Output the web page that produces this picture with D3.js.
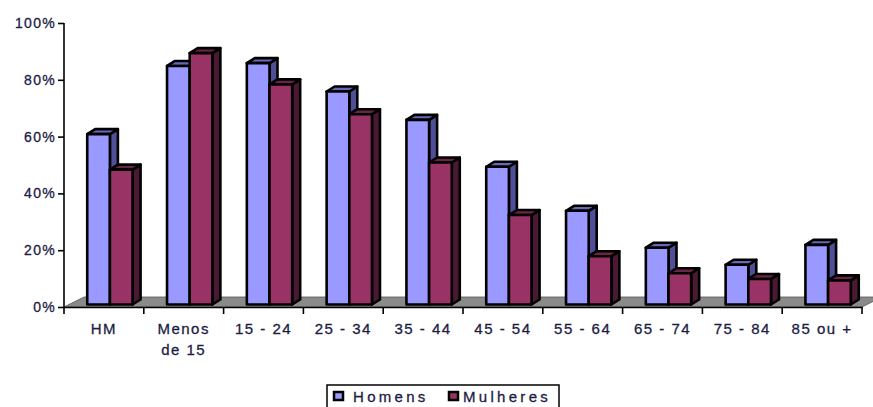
<!DOCTYPE html>
<html>
<head>
<meta charset="utf-8">
<script src="https://cdn.jsdelivr.net/npm/d3@7"></script>
<style>
  html, body { margin: 0; padding: 0; background: #fff; }
  svg { display: block; }
  text { font-family: "Liberation Sans", Arial, sans-serif; fill: #1c1c44; stroke: #1c1c44; stroke-width: 0.3px; }
</style>
</head>
<body>
<svg id="chart" width="873" height="407"></svg>
<script>
// Age groups and share (%) for each sex
const categories = ["HM", "Menos de 15", "15 - 24", "25 - 34", "35 - 44", "45 - 54", "55 - 64", "65 - 74", "75 - 84", "85 ou +"];
const seriesNames = ["Homens", "Mulheres"];
const homens   = [60, 84, 85, 75, 65, 48.5, 33, 20, 14, 21];
const mulheres = [47.5, 88.5, 77.5, 67, 50, 31.5, 17, 11, 9, 8.5];
const yTicks = [0, 20, 40, 60, 80, 100];

const colors = {
  Homens:   { front: "#9999ff", side: "#4e4f96", top: "#6768b8" },
  Mulheres: { front: "#993366", side: "#4a1933", top: "#6b2347" }
};

const svg = d3.select("#chart");
const plotLeft = 64, plotRight = 862, plotTop = 23, plotBottom = 307;

const x = d3.scaleBand().domain(categories).range([plotLeft, plotRight]).padding(0);
const xs = d3.scaleBand().domain(seriesNames).range([0, x.bandwidth()]).paddingInner(0).paddingOuter(0.76);
const y = d3.scaleLinear().domain([0, 100]).range([plotBottom, plotTop]);

// 3D offsets: floor depth and column depth
const floorDx = 20, floorDy = -10;
const barShiftX = 6, barShiftY = -2.5;
const depthX = 8, depthY = -5;
const poly = pts => pts.map(p => p.join(",")).join(" ");

// floor
svg.append("polygon")
  .attr("points", poly([[plotLeft, plotBottom], [plotRight, plotBottom], [plotRight + floorDx, plotBottom + floorDy], [plotLeft + floorDx, plotBottom + floorDy]]))
  .attr("fill", "#8a8a8a")
  .attr("stroke", "#555")
  .attr("stroke-width", 0.8);

// columns
const data = [];
categories.forEach((c, i) => {
  data.push({ cat: c, s: "Homens", v: homens[i] });
  data.push({ cat: c, s: "Mulheres", v: mulheres[i] });
});

const bars = svg.append("g").selectAll("g").data(data).join("g");
bars.each(function (d) {
  const g = d3.select(this);
  const x0 = x(d.cat) + xs(d.s) + barShiftX;
  const x1 = x0 + xs.bandwidth();
  const yb = y(0) + barShiftY;
  const yt = y(d.v) + barShiftY;
  const col = colors[d.s];
  g.append("polygon")
    .attr("points", poly([[x1, yb], [x1 + depthX, yb + depthY], [x1 + depthX, yt + depthY], [x1, yt]]))
    .attr("fill", col.side);
  g.append("polygon")
    .attr("points", poly([[x0, yt], [x1, yt], [x1 + depthX, yt + depthY], [x0 + depthX, yt + depthY]]))
    .attr("fill", col.top);
  g.append("rect")
    .attr("x", x0).attr("y", yt)
    .attr("width", x1 - x0).attr("height", yb - yt)
    .attr("fill", col.front);
  g.selectAll("polygon, rect")
    .attr("stroke", "#000")
    .attr("stroke-width", 2.6)
    .attr("stroke-linejoin", "round");
});

// y axis
const yAxis = svg.append("g").attr("transform", `translate(${plotLeft},0)`)
  .call(d3.axisLeft(y).tickValues(yTicks).tickFormat(d => d + "%").tickSize(6).tickPadding(2));
yAxis.select(".domain").attr("stroke", "#000").attr("stroke-width", 1.6).attr("d", `M0,${plotTop}V${plotBottom}`);
yAxis.selectAll(".tick line").attr("stroke", "#000").attr("stroke-width", 1.6);
yAxis.selectAll(".tick text")
  .style("font-size", "14px")
  .style("letter-spacing", "1.3px")
  .attr("fill", "#1c1c44");

// x axis
const xAxis = svg.append("g").attr("transform", `translate(0,${plotBottom})`)
  .call(d3.axisBottom(x).tickSize(0).tickFormat(""));
xAxis.select(".domain").attr("stroke", "#000").attr("stroke-width", 1.6);
xAxis.selectAll(".tick").remove();
const bounds = categories.map(c => x(c)).concat([plotRight]);
xAxis.selectAll("line.sep").data(bounds).join("line")
  .attr("class", "sep")
  .attr("x1", d => d).attr("x2", d => d)
  .attr("y1", 0).attr("y2", 7)
  .attr("stroke", "#000").attr("stroke-width", 1.6);

// category labels, wrapped on "de"
const labelLines = c => c === "Menos de 15" ? ["Menos", "de 15"] : [c];
const lbl = svg.append("g").selectAll("text").data(categories).join("text")
  .attr("x", d => x(d) + x.bandwidth() / 2)
  .attr("y", 334)
  .attr("text-anchor", "middle")
  .style("font-size", "15px")
  .style("letter-spacing", "1.5px");
lbl.each(function (d) {
  labelLines(d).forEach((t, k) => {
    d3.select(this).append("tspan")
      .attr("x", x(d) + x.bandwidth() / 2)
      .attr("dy", k === 0 ? 0 : 21)
      .text(t);
  });
});

// legend
const leg = svg.append("g");
leg.append("rect")
  .attr("x", 327).attr("y", 385).attr("width", 232).attr("height", 30)
  .attr("fill", "#fff").attr("stroke", "#000").attr("stroke-width", 1.5);
const legX = [333, 448], legTextX = [353, 463];
seriesNames.forEach((s, i) => {
  leg.append("rect")
    .attr("x", legX[i] + 1).attr("y", 392).attr("width", 9).attr("height", 8)
    .attr("fill", colors[s].front).attr("stroke", "#000").attr("stroke-width", 2.5);
  leg.append("text")
    .attr("x", legTextX[i]).attr("y", 402)
    .style("font-size", "15px")
    .style("letter-spacing", "3.3px")
    .text(s);
});
</script>
</body>
</html>
